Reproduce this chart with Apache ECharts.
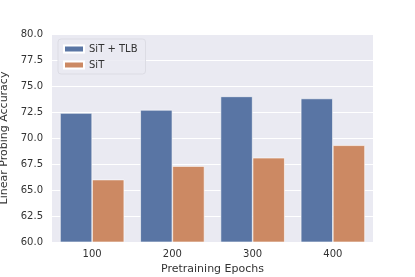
<!DOCTYPE html>
<html><head><meta charset="utf-8">
<script src="https://cdn.jsdelivr.net/npm/echarts@6/dist/echarts.min.js"></script>
<style>html,body{margin:0;padding:0;background:#fff}#c{width:415px;height:277px}</style>
</head><body><div id="c"></div>
<script>
const categories = ['100', '200', '300', '400'];
const sitTlb = [72.4, 72.7, 74.0, 73.8];
const sit = [66.0, 67.3, 68.1, 69.3];
const yTicks = [60, 62.5, 65, 67.5, 70, 72.5, 75, 77.5, 80];

const chart = echarts.init(document.getElementById('c'));
const font = 'DejaVu Sans';
chart.setOption({
  animation: false,
  textStyle: { fontFamily: font },
  grid: { left: 52, right: 42, top: 34, bottom: 35, containLabel: false, outerBoundsMode: 'none', show: true, backgroundColor: '#EAEAF2', borderWidth: 0 },
  legend: {
    left: 58, top: 39, orient: 'vertical',
    backgroundColor: 'rgba(234,234,242,0.85)', borderColor: '#dcdce4', borderWidth: 1, borderRadius: 3,
    padding: [5, 8, 4, 5], itemGap: 6, itemWidth: 20, itemHeight: 7,
    textStyle: { fontFamily: font, fontSize: 10, color: '#333' },
    data: [{ name: 'SiT + TLB', icon: 'rect' }, { name: 'SiT', icon: 'rect' }]
  },
  xAxis: {
    type: 'category', data: categories,
    name: 'Pretraining Epochs', nameLocation: 'middle', nameGap: 20,
    nameTextStyle: { fontFamily: font, fontSize: 11, color: '#333' },
    axisLine: { show: false }, axisTick: { show: false },
    axisLabel: { fontFamily: font, fontSize: 10, color: '#333', margin: 7 },
    splitLine: { show: false }
  },
  yAxis: {
    type: 'value', min: 60, max: 80, interval: 2.5,
    name: 'Linear Probing Accuracy', nameLocation: 'middle', nameGap: 42,
    nameTextStyle: { fontFamily: font, fontSize: 11, color: '#333' },
    axisLine: { show: false }, axisTick: { show: false },
    axisLabel: { fontFamily: font, fontSize: 10, color: '#333', margin: 9, formatter: v => v.toFixed(1) },
    splitLine: { show: true, lineStyle: { color: '#ffffff', width: 1 } }
  },
  series: [
    { name: 'SiT + TLB', type: 'bar', data: sitTlb, barGap: '0%', barCategoryGap: '20%',
      itemStyle: { color: '#5975A4', borderColor: '#ffffff', borderWidth: 0.6 } },
    { name: 'SiT', type: 'bar', data: sit, barGap: '0%', barCategoryGap: '20%',
      itemStyle: { color: '#CC8963', borderColor: '#ffffff', borderWidth: 0.6 } }
  ]
});
</script></body></html>
